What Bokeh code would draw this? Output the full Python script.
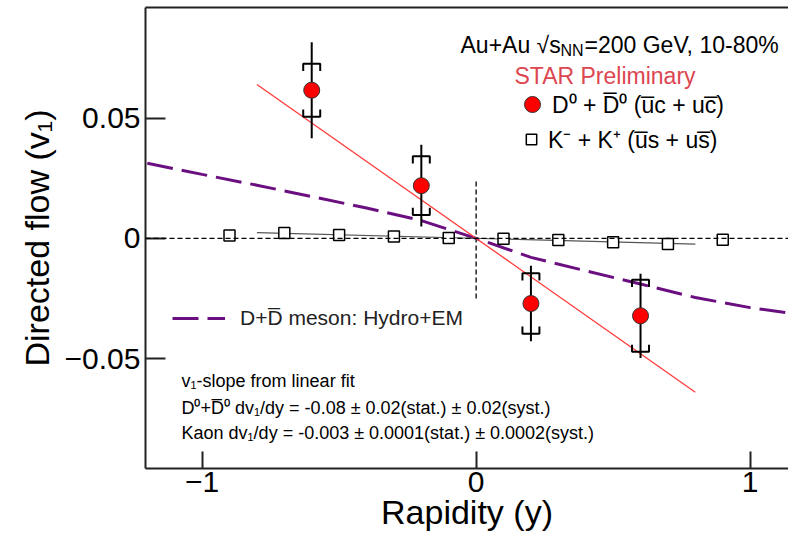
import numpy as np
from bokeh.plotting import figure
from bokeh.models import (Range1d, LinearAxis, FixedTicker, Label, Legend,
                          LegendItem, Span)
from bokeh.embed import file_html
from bokeh.resources import INLINE

# ---------------- data ----------------
d_rap = [-0.6, -0.2, 0.2, 0.6]
d_v1 = [0.0616, 0.0219, -0.0271, -0.0322]
d_stat = [0.0200, 0.0170, 0.0157, 0.0175]
d_syst = [0.0110, 0.0122, 0.0126, 0.0150]

k_rap = [-0.9, -0.7, -0.5, -0.3, -0.1, 0.1, 0.3, 0.5, 0.7, 0.9]
k_v1 = [0.0012, 0.0022, 0.0014, 0.0008, 0.0002, -0.0002, -0.0007, -0.0016, -0.0023, -0.0006]

d_fit_x = [-0.8, 0.8]
d_fit_y = [0.064, -0.064]
k_fit_x = [-0.8, 0.8]
k_fit_y = [0.0024, -0.0024]

hydro_x = [-1.2, -1.0, -0.8, -0.6, -0.4, -0.2, 0.0, 0.2, 0.4, 0.6, 0.8, 1.0, 1.2]
hydro_y = [0.0312, 0.0266, 0.0221, 0.0174, 0.0126, 0.0074, 0.0, -0.0079, -0.0135,
           -0.0190, -0.0246, -0.0288, -0.0320]

x_ticks = [-1, 0, 1]
y_ticks = [-0.05, 0, 0.05]
x_tick_labels = {-1: "\u22121", 0: "0", 1: "1"}
y_tick_labels = {-0.05: "\u22120.05", 0: "0", 0.05: "0.05"}

FONT = "Liberation Sans"
OL = "\u0305"

# ---------------- figure ----------------
p = figure(width=788, height=533, output_backend="svg", toolbar_location=None,
           x_range=Range1d(-1.2066, 1.140), y_range=Range1d(-0.0957, 0.0960),
           min_border_left=145, min_border_right=0, min_border_top=7,
           min_border_bottom=62)
p.outline_line_color = None
p.grid.visible = False
p.background_fill_color = "white"

for ax in (p.xaxis[0], p.yaxis[0]):
    ax.axis_line_width = 2
    ax.axis_line_color = "#222222"
    ax.major_tick_line_width = 2
    ax.major_tick_line_color = "#222222"
    ax.major_tick_out = 0
    ax.minor_tick_line_color = None
    ax.major_label_text_font = FONT
    ax.major_label_text_font_size = "30px"
    ax.major_label_text_color = "black"
    ax.axis_label_text_font = FONT
    ax.axis_label_text_font_size = "34px"
    ax.axis_label_text_font_style = "normal"
    ax.axis_label_text_color = "black"

p.xaxis[0].ticker = FixedTicker(ticks=x_ticks)
p.yaxis[0].ticker = FixedTicker(ticks=y_ticks)
p.xaxis[0].major_label_overrides = x_tick_labels
p.yaxis[0].major_label_overrides = y_tick_labels
p.xaxis[0].major_tick_in = 17
p.yaxis[0].major_tick_in = 20
p.xaxis[0].axis_label = "Rapidity (y)"
p.yaxis[0].axis_label = "Directed flow (v\u2081)"
p.xaxis[0].major_label_standoff = 3
p.xaxis[0].axis_label_standoff = -2
p.yaxis[0].major_label_standoff = 5
p.yaxis[0].axis_label_standoff = 6

top = LinearAxis(ticker=FixedTicker(ticks=[]), axis_line_width=2, axis_line_color="#222222",
                 major_tick_out=0, major_tick_in=0, minor_tick_out=0, minor_tick_in=0,
                 major_label_standoff=0, major_label_text_font_size="0px")
p.add_layout(top, "above")

# reference lines
p.add_layout(Span(location=0, dimension="width", line_color="black",
                  line_width=1.3, line_dash="5 3"))
p.segment(x0=[0], y0=[-0.025], x1=[0], y1=[0.0245], line_color="black",
          line_width=1.3, line_dash="5 3")

# hydro curve
hydro_r = p.line(hydro_x, hydro_y, line_color="#6b0f80", line_width=3, line_dash="26 9")

# fits
p.line(d_fit_x, d_fit_y, line_color="#ff3b3b", line_width=1.3)
p.line(k_fit_x, k_fit_y, line_color="#555555", line_width=1.2)

# D0 error bars
dx = np.array(d_rap); dy = np.array(d_v1)
st = np.array(d_stat); sy = np.array(d_syst)
p.segment(x0=dx, y0=dy - st, x1=dx, y1=dy + st, line_color="black", line_width=2)
hw = 0.031   # bracket half width (x units)
tk = 0.0030  # bracket tick length (y units)
xs, ys = [], []
for xi, yi, si in zip(dx, dy, sy):
    t, b = yi + si, yi - si
    xs.append([xi - hw, xi - hw, xi + hw, xi + hw]); ys.append([t - tk, t, t, t - tk])
    xs.append([xi - hw, xi - hw, xi + hw, xi + hw]); ys.append([b + tk, b, b, b + tk])
p.multi_line(xs, ys, line_color="black", line_width=2)

d_r = p.scatter(d_rap, d_v1, marker="circle", size=16, fill_color="#ff0000",
                line_color="#333333", line_width=1)
k_r = p.scatter(k_rap, k_v1, marker="square", size=11, fill_color="white",
                line_color="black", line_width=1.5)

# legends
common = dict(padding=0, margin=0, border_line_color=None, background_fill_alpha=0,
              label_text_font=FONT, label_text_color="black")
leg_d = Legend(items=[LegendItem(label="D\u2070 + D" + OL + "\u2070 (u" + OL + "c + uc" + OL + ")",
                                 renderers=[d_r])],
               location=(367, 344), glyph_width=40, glyph_height=40, label_height=40,
               label_standoff=-4, label_text_font_size="23px", **common)
leg_k = Legend(items=[LegendItem(label="K\u207b + K\u207a (u" + OL + "s + us" + OL + ")",
                                 renderers=[k_r])],
               location=(373, 313), glyph_width=26, glyph_height=26, label_height=26,
               label_standoff=4, label_text_font_size="23px", **common)
leg_h = Legend(items=[LegendItem(label="D+D" + OL + " meson: Hydro+EM", renderers=[hydro_r])],
               location=(27, 138), glyph_width=53, glyph_height=24, label_height=24,
               label_standoff=15, label_text_font_size="21px", **common)
leg_h.label_text_color = "#222222"
p.add_layout(leg_d)
p.add_layout(leg_k)
p.add_layout(leg_h)

# texts
def lab(x, y, t, size, color="black"):
    p.add_layout(Label(x=x, y=y, x_units="screen", y_units="screen", text=t,
                       text_font=FONT, text_font_size=size, text_color=color,
                       text_baseline="alphabetic"))

lab(315, 424, "Au+Au \u221as", "23px")
lab(415, 418, "NN", "16px")
lab(439, 424, "=200 GeV, 10-80%", "23px")
lab(369, 393, "STAR Preliminary", "23px", "#dc4650")
lab(36, 88, "v\u2081-slope from linear fit", "18px")
lab(36, 61, "D\u2070+D" + OL + "\u2070 dv\u2081/dy = -0.08 \u00b1 0.02(stat.) \u00b1 0.02(syst.)", "18px")
lab(36, 36, "Kaon dv\u2081/dy = -0.003 \u00b1 0.0001(stat.) \u00b1 0.0002(syst.)", "18px")

open("out.html", "w").write(file_html(p, INLINE))
